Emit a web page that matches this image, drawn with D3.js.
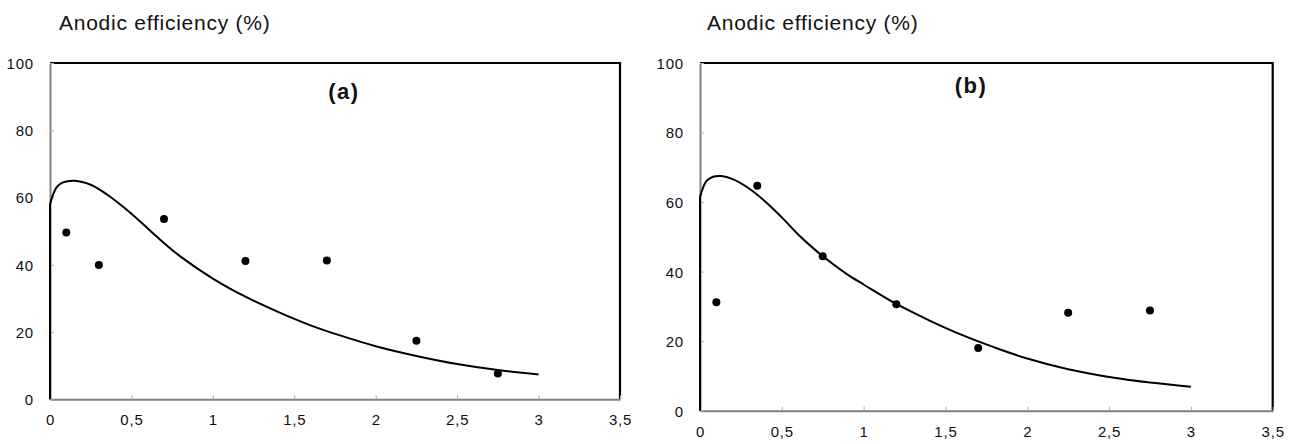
<!DOCTYPE html>
<html>
<head>
<meta charset="utf-8">
<script src="https://cdn.jsdelivr.net/npm/d3@7"></script>
<style>
  body { margin: 0; background: #fff; }
  svg { display: block; font-family: "Liberation Sans", Arial, sans-serif; }
</style>
</head>
<body>
<svg id="chart" width="1295" height="444"></svg>
<script>
// axis ticks
const xTicks = [0, 0.5, 1, 1.5, 2, 2.5, 3, 3.5]
const yTicks = [0, 20, 40, 60, 80, 100]
const yTitle = 'Anodic efficiency (%)'

// panel (a)
const pointsAx = [0.1, 0.3, 0.7, 1.2, 1.7, 2.25, 2.75]
const pointsAy = [49.6, 39.9, 53.6, 41.1, 41.3, 17.4, 7.7]
const curveAx = [0, 0.04, 0.08, 0.15, 0.25, 0.35, 0.5, 0.65, 0.8, 1.0, 1.2, 1.4, 1.6, 1.8, 2.0, 2.25, 2.5, 2.75, 3.0]
const curveAy = [58, 63.0, 64.5, 65.0, 63.8, 60.9, 55.2, 48.6, 42.5, 35.9, 30.5, 26.0, 22.0, 18.7, 15.8, 12.9, 10.5, 8.7, 7.4]

// panel (b)
const pointsBx = [0.1, 0.35, 0.75, 1.2, 1.7, 2.25, 2.75]
const pointsBy = [31.2, 64.7, 44.4, 30.6, 18.0, 28.2, 28.8]
const curveBx = [0, 0.04, 0.08, 0.13, 0.2, 0.3, 0.4, 0.5, 0.6, 0.7, 0.8, 0.9, 1.0, 1.2, 1.4, 1.6, 1.8, 2.0, 2.25, 2.5, 2.75, 3.0]
const curveBy = [61.5, 66.1, 67.3, 67.5, 66.6, 63.9, 60.1, 55.6, 50.7, 46.4, 42.6, 39.2, 36.3, 30.7, 26.0, 21.8, 18.2, 15.0, 11.9, 9.7, 8.1, 6.9]

const axisGrey = '#808080'
let svg = d3.select('#chart')

function drawPanel(opts) {
    let x = d3.scaleLinear().domain([0, 3.5]).range([opts.left, opts.right])
    let y = d3.scaleLinear().domain([0, 100]).range([opts.bottom, opts.top])
    let g = svg.append('g')

    // frame: top and right in black
    g.append('path')
        .attr('d', `M${opts.left},${opts.top}H${opts.right}V${opts.bottom}`)
        .attr('fill', 'none')
        .attr('stroke', '#000')
        .attr('stroke-width', 2.2)

    // bottom axis, ticks inside
    let xAxis = g.append('g')
        .attr('transform', `translate(0,${opts.bottom})`)
        .call(d3.axisBottom(x).tickValues(xTicks).tickSizeInner(-4).tickSizeOuter(0)
            .tickFormat(d => String(d).replace('.', ',')))
    xAxis.select('.domain').attr('stroke', axisGrey).attr('stroke-width', 2)
    xAxis.selectAll('.tick line').attr('stroke', '#aaa')
    xAxis.selectAll('.tick text')
        .attr('y', 26).attr('dy', 0)
        .attr('font-size', 15).attr('letter-spacing', 0.8)
        .attr('fill', '#111').attr('font-family', 'Liberation Sans, Arial, sans-serif')

    // left axis, ticks inside
    let yAxis = g.append('g')
        .attr('transform', `translate(${opts.left},0)`)
        .call(d3.axisLeft(y).tickValues(yTicks).tickSizeInner(-4).tickSizeOuter(0))
    yAxis.select('.domain').attr('stroke', axisGrey).attr('stroke-width', 2)
    yAxis.selectAll('.tick line').attr('stroke', '#aaa')
    yAxis.selectAll('.tick text')
        .attr('x', -16).attr('dy', '0.36em')
        .attr('font-size', 15).attr('letter-spacing', 0.8)
        .attr('fill', '#111').attr('font-family', 'Liberation Sans, Arial, sans-serif')

    // fitted curve: rises straight up the y axis from 0, then smooth
    let pts = d3.zip(opts.curveX, opts.curveY)
    let line = d3.line()
        .x(d => x(d[0]))
        .y(d => y(d[1]))
        .curve(d3.curveCatmullRom.alpha(0.5))
    g.append('path')
        .attr('d', `M${x(0)},${y(0)}L${x(pts[0][0])},${y(pts[0][1])}` + line(pts).replace(/^M/, 'L'))
        .attr('fill', 'none')
        .attr('stroke', '#000')
        .attr('stroke-width', 2)
        .attr('stroke-linejoin', 'round')

    // measured points
    g.selectAll('circle.pt')
        .data(d3.zip(opts.pointsX, opts.pointsY))
        .enter().append('circle')
        .attr('class', 'pt')
        .attr('cx', d => x(d[0]))
        .attr('cy', d => y(d[1]))
        .attr('r', 4)
        .attr('fill', '#000')

    // titles
    g.append('text')
        .attr('x', opts.titleX)
        .attr('y', 30)
        .attr('font-size', 21)
        .attr('letter-spacing', 0.75)
        .attr('fill', '#111')
        .text(yTitle)
    g.append('text')
        .attr('x', opts.labelX)
        .attr('y', opts.labelY)
        .attr('text-anchor', 'middle')
        .attr('font-size', 22)
        .attr('font-weight', 'bold')
        .attr('letter-spacing', 1.5)
        .attr('fill', '#111')
        .text(opts.label)
}

drawPanel({
    left: 50, right: 620, top: 63, bottom: 399.3,
    pointsX: pointsAx, pointsY: pointsAy, curveX: curveAx, curveY: curveAy,
    titleX: 59, label: '(a)', labelX: 344, labelY: 99
})

drawPanel({
    left: 700, right: 1272.7, top: 63, bottom: 410.7,
    pointsX: pointsBx, pointsY: pointsBy, curveX: curveBx, curveY: curveBy,
    titleX: 707, label: '(b)', labelX: 971, labelY: 93
})
</script>
</body>
</html>
